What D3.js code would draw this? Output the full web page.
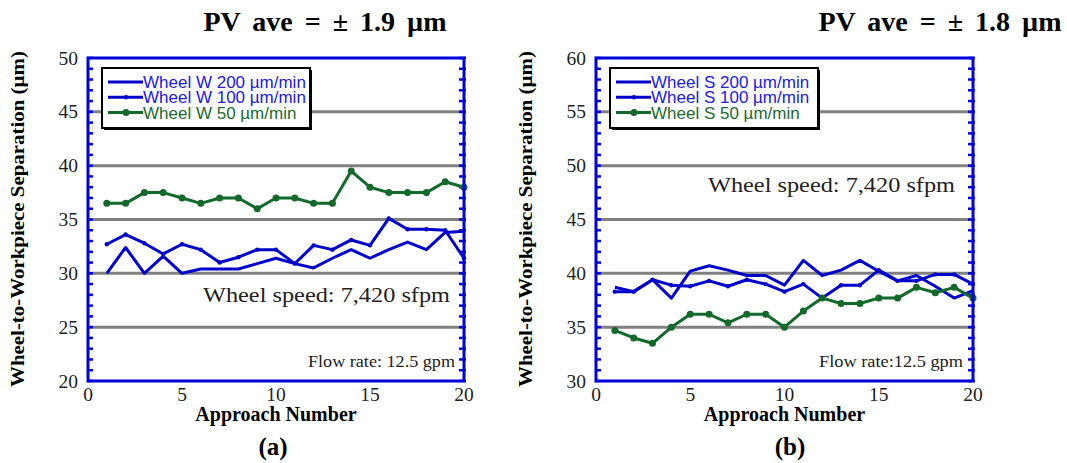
<!DOCTYPE html>
<html>
<head>
<meta charset="utf-8">
<script src="https://cdn.jsdelivr.net/npm/d3@7"></script>
<style>
  body { margin: 0; background: #fff; }
  svg { display: block; }
</style>
</head>
<body>
<div id="chart"></div>
<script>
// Approach numbers (x categories)
const approach = [1, 2, 3, 4, 5, 6, 7, 8, 9, 10, 11, 12, 13, 14, 15, 16, 17, 18, 19, 20];

// Panel (a): Wheel W
const wheelW200 = [30.0, 32.4, 30.0, 31.6, 30.0, 30.4, 30.4, 30.4, 30.9, 31.4, 30.9, 30.5, 31.4, 32.2, 31.4, 32.2, 32.9, 32.2, 33.8, 33.9];
const wheelW100 = [32.7, 33.6, 32.8, 31.8, 32.7, 32.2, 31.0, 31.5, 32.2, 32.2, 30.9, 32.6, 32.2, 33.1, 32.6, 35.1, 34.1, 34.1, 34.0, 31.4];
const wheelW50  = [36.5, 36.5, 37.5, 37.5, 37.0, 36.5, 37.0, 37.0, 36.0, 37.0, 37.0, 36.5, 36.5, 39.5, 38.0, 37.5, 37.5, 37.5, 38.5, 38.0];

// Panel (b): Wheel S
const wheelS200 = [38.7, 38.3, 39.4, 37.7, 40.2, 40.7, 40.3, 39.8, 39.8, 38.9, 41.2, 39.8, 40.3, 41.2, 40.2, 39.3, 39.8, 38.8, 37.7, 38.4];
const wheelS100 = [38.3, 38.3, 39.4, 38.9, 38.8, 39.3, 38.8, 39.4, 39.0, 38.3, 39.0, 37.7, 38.9, 38.9, 40.3, 39.3, 39.3, 39.9, 39.9, 39.0];
const wheelS50  = [34.7, 34.0, 33.5, 35.0, 36.2, 36.2, 35.4, 36.2, 36.2, 35.0, 36.5, 37.7, 37.2, 37.2, 37.7, 37.7, 38.7, 38.2, 38.7, 37.7];

// Axis ticks
const xTicks = [0, 5, 10, 15, 20];
const yTicksA = [20, 25, 30, 35, 40, 45, 50];
const yTicksB = [30, 35, 40, 45, 50, 55, 60];

// Text
const titles = ["PV ave = \u00b1 1.9 \u00b5m", "PV ave = \u00b1 1.8 \u00b5m"];
const panelLabels = ["(a)", "(b)"];
const legendA = ["Wheel W 200 \u00b5m/min", "Wheel W 100 \u00b5m/min", "Wheel W 50 \u00b5m/min"];
const legendB = ["Wheel S 200 \u00b5m/min", "Wheel S 100 \u00b5m/min", "Wheel S 50 \u00b5m/min"];
const speedNote = "Wheel speed: 7,420 sfpm";
const flowNotes = ["Flow rate: 12.5 gpm", "Flow rate:12.5 gpm"];

const blue = "#0000cc", green = "#11692a", frameBlue = "#0000dd";
const serif = "'Liberation Serif', 'Times New Roman', serif";
const sans = "'Liberation Sans', Arial, sans-serif";

const svg = d3.select("#chart").append("svg")
    .attr("width", 1067)
    .attr("height", 463);

function drawPanel(p) {
    let g = svg.append("g");

    let x = d3.scaleLinear().domain([0, 20]).range([p.x0, p.x1]);
    let y = d3.scaleLinear().domain(p.yDomain).range([381, 58]);

    // Gray gridlines at major ticks
    g.selectAll(".grid")
        .data(p.yTicks.slice(1, -1))
        .enter().append("line")
        .attr("x1", p.x0).attr("x2", p.x1)
        .attr("y1", d => y(d)).attr("y2", d => y(d))
        .attr("stroke", "#808080")
        .attr("stroke-width", 3);

    // Minor ticks on left and right edges (every 1 unit)
    let minor = d3.range(p.yDomain[0], p.yDomain[1] + 1);
    g.selectAll(".tickL")
        .data(minor)
        .enter().append("line")
        .attr("x1", p.x0 - 1).attr("x2", p.x0 + 5)
        .attr("y1", d => y(d)).attr("y2", d => y(d))
        .attr("stroke", frameBlue).attr("stroke-width", 2.5);
    g.selectAll(".tickR")
        .data(minor)
        .enter().append("line")
        .attr("x1", p.x1 + 2).attr("x2", p.x1 - 5)
        .attr("y1", d => y(d)).attr("y2", d => y(d))
        .attr("stroke", frameBlue).attr("stroke-width", 2.5);

    // Y tick labels
    g.selectAll(".ylab")
        .data(p.yTicks)
        .enter().append("text")
        .attr("x", p.x0 - 10)
        .attr("y", d => y(d) + 6.5)
        .attr("text-anchor", "end")
        .style("font-family", serif)
        .style("font-size", "19.5px")
        .attr("fill", "#222")
        .text(d => d);

    // X tick labels
    g.selectAll(".xlab")
        .data(xTicks)
        .enter().append("text")
        .attr("x", d => x(d))
        .attr("y", 401)
        .attr("text-anchor", "middle")
        .style("font-family", serif)
        .style("font-size", "19.5px")
        .attr("fill", "#222")
        .text(d => d);

    // Series lines
    let line = d3.line()
        .x((d, i) => x(approach[i]))
        .y(d => y(d));

    p.series.forEach(s => {
        g.append("path")
            .datum(s.values)
            .attr("d", line)
            .attr("fill", "none")
            .attr("stroke", s.color)
            .attr("stroke-width", 3)
            .attr("stroke-linejoin", "round");
        if (s.r > 0) {
            g.selectAll(null)
                .data(s.values)
                .enter().append("circle")
                .attr("cx", (d, i) => x(approach[i]))
                .attr("cy", d => y(d))
                .attr("r", s.r)
                .attr("fill", s.color);
        }
    });

    // Frame
    g.append("rect")
        .attr("x", p.x0).attr("y", 58)
        .attr("width", p.x1 - p.x0).attr("height", 381 - 58)
        .attr("fill", "none")
        .attr("stroke", frameBlue)
        .attr("stroke-width", 3);

    // Legend box with shadow
    let lx = p.x0 + 14, ly = 68, lw = 208, lh = 60;
    g.append("rect")
        .attr("x", lx + 2).attr("y", ly + 2)
        .attr("width", lw).attr("height", lh)
        .attr("fill", "#000");
    g.append("rect")
        .attr("x", lx).attr("y", ly)
        .attr("width", lw).attr("height", lh)
        .attr("fill", "#fff")
        .attr("stroke", "#000")
        .attr("stroke-width", 2);

    p.series.forEach((s, i) => {
        let ry = 82 + i * 15.3;
        g.append("line")
            .attr("x1", lx + 6).attr("x2", lx + 41)
            .attr("y1", ry).attr("y2", ry)
            .attr("stroke", s.color).attr("stroke-width", 3);
        if (s.r > 0) {
            g.append("circle")
                .attr("cx", lx + 24).attr("cy", ry)
                .attr("r", s.r)
                .attr("fill", s.color);
        }
        g.append("text")
            .attr("x", lx + 41)
            .attr("y", ry + 6)
            .style("font-family", sans)
            .style("font-size", "17px")
            .attr("fill", s.textColor)
            .text(s.label);
    });

    // Annotations
    g.append("text")
        .attr("x", p.speedX).attr("y", p.speedY)
        .attr("text-anchor", "end")
        .attr("textLength", 247)
        .attr("lengthAdjust", "spacingAndGlyphs")
        .style("font-family", serif)
        .style("font-size", "22px")
        .attr("fill", "#222")
        .text(speedNote);
    g.append("text")
        .attr("x", p.flowX).attr("y", 367)
        .attr("text-anchor", "end")
        .attr("textLength", p.flowLen)
        .attr("lengthAdjust", "spacingAndGlyphs")
        .style("font-family", serif)
        .style("font-size", "17px")
        .attr("fill", "#222")
        .text(p.flow);

    // Axis titles
    g.append("text")
        .attr("transform", `translate(${p.x0 - 64}, 219) rotate(-90)`)
        .attr("text-anchor", "middle")
        .attr("textLength", 336)
        .attr("lengthAdjust", "spacingAndGlyphs")
        .style("font-family", serif)
        .style("font-size", "18px")
        .style("font-weight", "bold")
        .text("Wheel-to-Workpiece Separation (\u00b5m)");

    g.append("text")
        .attr("x", (p.x0 + p.x1) / 2)
        .attr("y", 421)
        .attr("text-anchor", "middle")
        .style("font-family", serif)
        .style("font-size", "20px")
        .style("font-weight", "bold")
        .text("Approach Number");

    g.append("text")
        .attr("x", p.labelX)
        .attr("y", 455)
        .attr("text-anchor", "middle")
        .style("font-family", serif)
        .style("font-size", "25px")
        .style("font-weight", "bold")
        .text(p.label);

    g.append("text")
        .attr("x", p.titleX)
        .attr("y", 31)
        .attr("text-anchor", "middle")
        .style("font-family", serif)
        .style("font-size", "28px")
        .style("font-weight", "bold")
        .style("word-spacing", "5px")
        .text(p.title);
}

drawPanel({
    x0: 88, x1: 464, yDomain: [20, 50], yTicks: yTicksA,
    series: [
        { values: wheelW200, color: blue, r: 0, label: legendA[0], textColor: "#2020dd" },
        { values: wheelW100, color: blue, r: 2.2, label: legendA[1], textColor: "#2020dd" },
        { values: wheelW50, color: green, r: 3.5, label: legendA[2], textColor: "#1d6b2c" }
    ],
    speedX: 450, speedY: 302, flow: flowNotes[0], flowX: 455, flowLen: 147,
    label: panelLabels[0], labelX: 273, title: titles[0], titleX: 325
});

drawPanel({
    x0: 596, x1: 973, yDomain: [30, 60], yTicks: yTicksB,
    series: [
        { values: wheelS200, color: blue, r: 0, label: legendB[0], textColor: "#2020dd" },
        { values: wheelS100, color: blue, r: 2.2, label: legendB[1], textColor: "#2020dd" },
        { values: wheelS50, color: green, r: 3.5, label: legendB[2], textColor: "#1d6b2c" }
    ],
    speedX: 955, speedY: 192, flow: flowNotes[1], flowX: 963, flowLen: 144,
    label: panelLabels[1], labelX: 790, title: titles[1], titleX: 940
});
</script>
</body>
</html>
